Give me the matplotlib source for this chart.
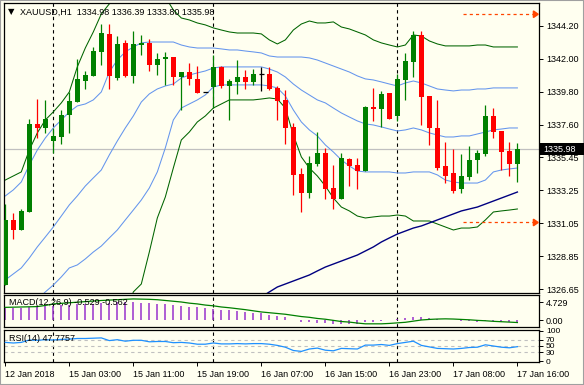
import numpy as np
import matplotlib
matplotlib.use("Agg")
import matplotlib.pyplot as plt
from matplotlib.patches import Rectangle, Polygon

# XAUUSD H1 candles
opens = [1326.93, 1331.27, 1330.60, 1331.80, 1337.67, 1337.40, 1336.53, 1336.80, 1338.27, 1339.13,
         1340.53, 1340.87, 1342.47, 1343.67, 1340.73, 1343.07, 1340.87, 1342.93, 1343.07, 1341.60,
         1342.00, 1342.13, 1340.80, 1341.13, 1340.67, 1339.80, 1340.13, 1341.47, 1340.20, 1340.47,
         1340.80, 1340.47, 1341.00, 1341.00, 1340.07, 1339.27, 1337.47, 1334.33, 1333.07, 1335.00,
         1335.73, 1333.40, 1332.67, 1335.33, 1334.93, 1334.53, 1338.80, 1338.67, 1339.73, 1338.20,
         1340.60, 1341.80, 1343.60, 1339.53, 1337.40, 1334.87, 1334.40, 1333.33, 1334.13, 1335.27,
         1335.67, 1338.20, 1337.20, 1335.87, 1334.98]
highs = [1332.33, 1331.75, 1331.98, 1338.00, 1339.33, 1339.27, 1337.40, 1338.60, 1339.80, 1342.00,
         1341.20, 1342.80, 1344.33, 1344.33, 1343.53, 1343.27, 1343.87, 1343.60, 1343.33, 1342.40,
         1342.47, 1342.13, 1341.13, 1341.73, 1341.53, 1339.80, 1342.27, 1341.53, 1340.67, 1341.93,
         1341.27, 1341.33, 1341.47, 1341.47, 1340.20, 1339.93, 1337.73, 1334.73, 1335.53, 1337.13,
         1336.07, 1334.93, 1335.73, 1335.40, 1335.40, 1338.87, 1340.07, 1339.87, 1339.73, 1341.00,
         1342.40, 1343.87, 1343.87, 1339.53, 1339.27, 1336.47, 1336.00, 1335.67, 1336.20, 1335.93,
         1338.93, 1338.73, 1337.20, 1336.47, 1336.39]
lows = [1326.93, 1329.98, 1330.60, 1331.80, 1336.73, 1337.07, 1335.73, 1336.33, 1337.07, 1339.13,
        1340.00, 1340.87, 1341.60, 1340.00, 1340.60, 1340.80, 1340.40, 1342.27, 1341.20, 1340.93,
        1340.27, 1340.27, 1338.60, 1340.27, 1339.73, 1339.80, 1338.73, 1340.07, 1337.93, 1339.67,
        1340.00, 1340.27, 1339.87, 1339.93, 1337.93, 1336.33, 1332.93, 1331.80, 1332.73, 1334.87,
        1332.67, 1332.00, 1332.67, 1333.53, 1333.33, 1334.53, 1337.87, 1337.47, 1338.00, 1337.87,
        1339.27, 1340.80, 1337.60, 1336.27, 1334.60, 1333.73, 1333.07, 1333.07, 1333.93, 1334.40,
        1335.53, 1336.73, 1334.60, 1334.20, 1333.80]
closes = [1331.27, 1330.60, 1331.87, 1337.67, 1337.40, 1338.00, 1336.87, 1338.27, 1339.20, 1340.67,
          1340.93, 1342.53, 1343.73, 1340.87, 1343.00, 1340.87, 1343.00, 1343.07, 1341.60, 1342.00,
          1342.13, 1340.80, 1341.13, 1340.67, 1339.73, 1339.80, 1341.47, 1340.20, 1340.53, 1340.80,
          1340.47, 1341.00, 1341.00, 1340.00, 1339.20, 1337.40, 1334.27, 1333.07, 1335.07, 1335.73,
          1333.33, 1332.67, 1335.40, 1334.87, 1334.53, 1338.80, 1338.67, 1339.67, 1338.00, 1340.67,
          1341.87, 1343.60, 1339.47, 1337.40, 1334.73, 1334.20, 1333.20, 1334.20, 1335.27, 1335.73,
          1338.20, 1337.13, 1335.80, 1335.00, 1335.98]

nan = float("nan")
# Bollinger bands (blue) and wider envelope (dark green)
bb_upper = [1332.87, 1333.27, 1333.80, 1334.93, 1335.93, 1336.73, 1337.40, 1337.93, 1338.47, 1338.87,
            1339.00, 1339.27, 1339.80, 1341.13, 1341.93, 1342.47, 1342.80, 1343.07, 1343.13, 1343.13,
            1343.13, 1343.13, 1342.93, 1342.80, 1342.73, 1342.73, 1342.73, 1342.67, 1342.60, 1342.60,
            1342.53, 1342.47, 1342.40, 1342.20, 1342.13, 1342.13, 1342.13, 1342.13, 1342.07, 1341.93,
            1341.73, 1341.53, 1341.33, 1341.13, 1340.87, 1340.67, 1340.60, 1340.47, 1340.33, 1340.20,
            1340.40, 1340.53, 1340.40, 1340.20, 1340.00, 1339.93, 1339.87, 1339.93, 1339.93, 1340.00,
            1340.00, 1340.07, 1340.07, 1340.07, 1340.07]
bb_middle = [1327.27, 1327.67, 1328.07, 1328.73, 1329.47, 1330.13, 1330.80, 1331.53, 1332.27, 1332.87,
             1333.53, 1334.07, 1334.60, 1335.60, 1336.53, 1337.40, 1338.20, 1339.13, 1339.67, 1340.00,
             1340.20, 1340.33, 1340.73, 1340.93, 1341.07, 1341.20, 1341.40, 1341.47, 1341.47, 1341.47,
             1341.47, 1341.47, 1341.47, 1341.33, 1341.13, 1340.80, 1340.33, 1339.93, 1339.60, 1339.27,
             1339.07, 1338.73, 1338.40, 1338.13, 1337.87, 1337.67, 1337.60, 1337.47, 1337.33, 1337.20,
             1337.27, 1337.40, 1337.27, 1337.07, 1336.93, 1336.80, 1336.80, 1336.87, 1336.87, 1337.00,
             1337.13, 1337.27, 1337.33, 1337.40, 1337.40]
bb_lower = [nan, nan, 1324.73, 1325.27, 1325.93, 1326.47, 1326.93, 1327.47, 1328.07, 1328.27,
            1328.67, 1329.13, 1329.53, 1330.07, 1330.60, 1331.27, 1331.93, 1332.60, 1333.40, 1334.47,
            1336.07, 1337.93, 1338.73, 1339.00, 1339.27, 1339.60, 1340.13, 1340.27, 1340.27, 1340.27,
            1340.27, 1340.27, 1340.27, 1340.20, 1340.07, 1339.53, 1338.60, 1337.80, 1337.27, 1336.87,
            1336.27, 1335.80, 1335.27, 1334.87, 1334.53, 1334.47, 1334.47, 1334.47, 1334.47, 1334.40,
            1334.40, 1334.47, 1334.47, 1334.47, 1334.27, 1333.93, 1333.80, 1333.73, 1333.73, 1333.73,
            1333.93, 1334.47, 1334.60, 1334.67, 1334.73]
env_upper = [1333.93, 1334.20, 1334.47, 1335.93, 1337.07, 1337.93, 1338.47, 1339.07, 1339.80, 1341.47,
             1342.73, 1343.80, 1345.00, 1345.67, 1346.27, 1346.73, 1347.13, 1347.27, 1347.13, 1346.73,
             1346.13, 1345.27, 1344.73, 1344.60, 1344.40, 1344.27, 1344.07, 1343.93, 1343.80, 1343.73,
             1343.73, 1343.73, 1343.67, 1343.27, 1343.00, 1343.27, 1343.93, 1344.33, 1344.53, 1344.40,
             1344.40, 1344.47, 1344.13, 1344.00, 1343.80, 1343.60, 1343.27, 1343.07, 1342.93, 1342.80,
             1342.93, 1343.60, 1343.53, 1343.20, 1343.00, 1342.87, 1342.87, 1342.87, 1342.87, 1342.93,
             1342.93, 1342.80, 1342.80, 1342.80, 1342.80]
env_lower = [nan, nan, nan, nan, nan, nan, nan, nan, nan, nan,
             nan, nan, nan, nan, nan, 1324.73, 1326.47, 1327.00, 1329.13, 1331.40,
             1332.80, 1334.73, 1336.60, 1337.13, 1337.80, 1338.20, 1338.73, 1339.00, 1339.27, 1339.27,
             1339.27, 1339.27, 1339.33, 1339.40, 1339.33, 1338.73, 1336.93, 1335.47, 1334.73, 1334.20,
             1333.53, 1332.73, 1332.13, 1331.87, 1331.53, 1331.40, 1331.47, 1331.53, 1331.53, 1331.60,
             1331.53, 1331.20, 1331.20, 1331.20, 1331.00, 1330.80, 1330.60, 1330.73, 1330.73, 1330.80,
             1331.27, 1331.80, 1331.87, 1331.93, 1332.00]
slow_ma = [nan] * 32 + [1326.13, 1326.47, 1326.80, 1327.00, 1327.20, 1327.40, 1327.60, 1327.87,
                        1328.13, 1328.33, 1328.53, 1328.73, 1328.93, 1329.20, 1329.47, 1329.80,
                        1330.07, 1330.33, 1330.53, 1330.73, 1330.87, 1331.07, 1331.27, 1331.47,
                        1331.67, 1331.87, 1332.00, 1332.13, 1332.33, 1332.53, 1332.73, 1332.93, 1333.13]

macd_main = [3.3, 3.3, 3.3, 3.5, 3.6, 3.7, 3.8, 3.9, 4.0, 4.2,
             4.3, 4.4, 4.6, 4.6, 4.7, 4.7, 4.73, 4.6, 4.5, 4.3,
             4.2, 4.0, 3.8, 3.6, 3.4, 3.2, 3.0, 2.8, 2.6, 2.4,
             2.2, 2.0, 1.8, 1.5, 1.2, 0.8, 0.2, -0.3, -0.5, -0.6,
             -0.8, -1.0, -0.9, -0.9, -0.9, -0.5, -0.3, -0.1, 0.1, 0.4,
             0.7, 1.0, 0.9, 0.7, 0.4, 0.2, 0.0, -0.1, -0.2, -0.3,
             -0.1, -0.2, -0.3, -0.45, -0.529]
macd_signal = [3.4, 3.45, 3.5, 3.55, 3.6, 3.9, 4.3, 4.45, 4.6, 4.75,
               4.9, 5.05, 5.2, 5.3, 5.4, 5.5, 5.6, 5.55, 5.5, 5.4,
               5.2, 5.0, 4.8, 4.5, 4.3, 4.0, 3.8, 3.5, 3.3, 3.05,
               2.8, 2.5, 2.2, 2.0, 1.8, 1.6, 1.3, 1.0, 0.8, 0.5,
               0.3, 0.0, -0.3, -0.45, -0.7, -0.9, -0.9, -0.9, -0.8, -0.65,
               -0.5, -0.2, 0.1, 0.25, 0.35, 0.4, 0.35, 0.25, 0.15, 0.0,
               -0.1, -0.25, -0.35, -0.45, -0.562]
rsi = [62, 60, 62, 70, 69, 71, 70, 72, 73, 75,
       75, 76, 77, 68, 71, 66, 69, 69, 64, 65,
       65, 61, 62, 60, 56, 56, 60, 57, 57, 58,
       57, 58, 58, 56, 52, 46, 35, 32, 40, 43,
       36, 34, 42, 41, 40, 53, 53, 55, 52, 58,
       62, 66, 52, 47, 42, 41, 40, 42, 45, 46,
       54, 50, 46, 44, 47.78]

price_ticks = [1344.20, 1342.00, 1339.80, 1337.60, 1335.45, 1333.25, 1331.05, 1328.85, 1326.65]
rsi_ticks = [100, 70, 50, 30, 0]
time_ticks = [0, 8, 16, 24, 32, 40, 48, 56, 64]
time_labels = ["12 Jan 2018", "15 Jan 03:00", "15 Jan 11:00", "15 Jan 19:00", "16 Jan 07:00",
               "16 Jan 15:00", "16 Jan 23:00", "17 Jan 08:00", "17 Jan 16:00"]
day_breaks = [6, 26, 49]
last_price = 1335.98
tp_level = 1344.98
sl_level = 1331.10

W, H = 584, 385
BG = "#FFFFF0"
FS = 6.5
plt.rcParams["font.family"] = ["Liberation Sans", "DejaVu Sans"]

fig = plt.figure(figsize=(W / 100, H / 100), dpi=100, facecolor=BG)


def panel(top, bottom, left=4, right=539):
    return [left / W, 1 - bottom / H, (right - left) / W, (bottom - top) / H]


ax = fig.add_axes(panel(3, 293))
ax_macd = fig.add_axes(panel(295, 327), sharex=ax)
ax_rsi = fig.add_axes(panel(330, 362), sharex=ax)

x = np.arange(len(closes))
for a in (ax, ax_macd, ax_rsi):
    a.set_facecolor(BG)
    for s in a.spines.values():
        s.set_linewidth(0.9)
        s.set_color("black")
    a.yaxis.tick_right()
    a.tick_params(axis="y", direction="out", length=3, width=0.7, pad=2, labelsize=FS)
    a.tick_params(axis="x", length=0)
    for b in day_breaks:
        a.axvline(b, color="black", lw=0.8, ls=(0, (3, 3)), zorder=1)
ax.set_xlim(-0.16, 66.7)

# main price panel
lw = 0.75
ax.plot(x, env_upper, color="#006400", lw=lw, zorder=2)
ax.plot(x, env_lower, color="#006400", lw=lw, zorder=2)
ax.plot(x, bb_upper, color="#6495ED", lw=lw, zorder=2)
ax.plot(x, bb_middle, color="#6495ED", lw=lw, zorder=2)
ax.plot(x, bb_lower, color="#6495ED", lw=lw, zorder=2)
ax.plot(x, slow_ma, color="#000080", lw=1.0, zorder=2)
ax.axhline(last_price, color="#C0C0C0", lw=0.9, zorder=1)

for i in range(len(closes)):
    o, h, l, c = opens[i], highs[i], lows[i], closes[i]
    col = "#008000" if c > o else ("#FF0000" if c < o else "black")
    ax.vlines(i, l, h, color=col, lw=0.9, zorder=3)
    if abs(c - o) < 0.05:
        ax.hlines(c, i - 0.33, i + 0.33, color=col, lw=0.9, zorder=4)
    else:
        ax.bar(i, abs(c - o), bottom=min(o, c), width=0.62, color=col, lw=0, zorder=4)

for lvl in (tp_level, sl_level):
    ax.plot([57.2, 66.0], [lvl, lvl], color="#FF4500", lw=0.9, ls=(0, (2.5, 2.5)), zorder=3)
    ax.add_patch(Polygon([[66.0, lvl + 0.22], [66.0, lvl - 0.22], [66.6, lvl]],
                         closed=True, color="#FF4500", zorder=3))

ax.set_ylim(1326.40, 1345.73)
ax.set_yticks(price_ticks)
ax.set_yticklabels([f"{v:.2f}" for v in price_ticks])
ax.tick_params(axis="x", labelbottom=False)

# MACD panel: main line as thin histogram, signal as line
ax_macd.vlines(x, 0, macd_main, color="#9932CC", lw=1.1, zorder=2)
ax_macd.plot(x, macd_signal, color="#008000", lw=0.9, zorder=3)
ax_macd.set_ylim(-1.73, 6.63)
ax_macd.set_yticks([4.729, 0.0])
ax_macd.set_yticklabels(["4.729", "0.00"])
ax_macd.tick_params(axis="x", labelbottom=False)
ax_macd.text(0.01, 0.78, "MACD(12,26,9) -0.529 -0.562", transform=ax_macd.transAxes,
             fontsize=FS, va="center", ha="left", zorder=5)

# RSI panel
for lvl in (70, 50, 30):
    ax_rsi.axhline(lvl, color="#C0C0C0", lw=0.8, ls=(0, (3, 3)), zorder=1)
ax_rsi.plot(x, rsi, color="#1E90FF", lw=0.9, zorder=3)
ax_rsi.set_ylim(-3.3, 103.3)
ax_rsi.set_yticks(rsi_ticks)
ax_rsi.set_yticklabels([str(v) for v in rsi_ticks], fontsize=FS - 0.5)
ax_rsi.text(0.01, 0.72, "RSI(14) 47.7757", transform=ax_rsi.transAxes,
            fontsize=FS, va="center", ha="left", zorder=5)
ax_rsi.set_xticks(time_ticks)
ax_rsi.set_xticklabels(time_labels, fontsize=FS)
ax_rsi.tick_params(axis="x", length=3, width=0.7, direction="out", pad=3)
for lbl in ax_rsi.get_xticklabels():
    lbl.set_horizontalalignment("left")

# header text and current price box
fig.text(8 / W, 1 - 12 / H, "\u25bc", fontsize=6, family="DejaVu Sans", va="center", ha="left")
fig.text(20 / W, 1 - 12 / H, "XAUUSD,H1  1334.98 1336.39 1333.80 1335.98",
         fontsize=FS, va="center", ha="left")
fig.patches.append(Rectangle((540 / W, 1 - 155 / H), 44 / W, 12 / H, transform=fig.transFigure,
                             facecolor="black", edgecolor="none", zorder=5))
fig.text(543 / W, 1 - 149 / H, f"{last_price:.2f}", color="white", fontsize=FS,
         va="center", ha="left", zorder=6)

# window border
fig.patches.append(Rectangle((0, 0), 1, 1, transform=fig.transFigure, fill=False,
                             edgecolor="#A0A0A0", lw=1.5))

fig.savefig("out.png", dpi=100, facecolor=BG)
